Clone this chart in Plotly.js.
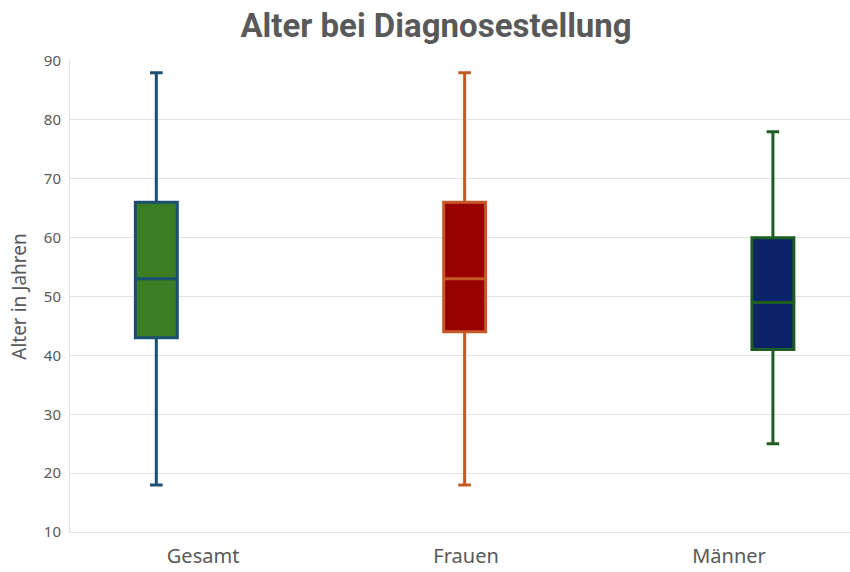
<!DOCTYPE html>
<html>
<head>
<meta charset="utf-8">
<script src="https://cdn.plot.ly/plotly-3.0.1.min.js"></script>
<style>
  html, body { margin: 0; padding: 0; background: #ffffff; }
  #chart { width: 850px; height: 572px; }
</style>
</head>
<body>
<div id="chart"></div>
<script>
// Altersverteilung bei Diagnosestellung (Fünf-Punkte-Zusammenfassung)
const categories = ["Gesamt", "Frauen", "Männer"];
const minimum = [18, 18, 25];
const q1 = [43, 44, 41];
const median = [53, 53, 49];
const q3 = [66, 66, 60];
const maximum = [88, 88, 78];

const fillColors = ["#3a7d22", "#990000", "#0b2468"];
const lineColors = ["#1b4f72", "#c55a28", "#1e5c23"];

const traces = categories.map((cat, i) => ({
  type: "box",
  name: cat,
  x: [i],
  lowerfence: [minimum[i]],
  q1: [q1[i]],
  median: [median[i]],
  q3: [q3[i]],
  upperfence: [maximum[i]],
  width: 0.136,
  whiskerwidth: 0.3,
  fillcolor: fillColors[i],
  line: { color: lineColors[i], width: 3 },
  boxpoints: false,
  hoverinfo: "skip",
  showlegend: false
}));

// Category labels sit on their own evenly spaced bottom axis
traces.push({
  type: "scatter",
  mode: "markers",
  x: [0, 1, 2],
  y: [null, null, null],
  xaxis: "x2",
  hoverinfo: "skip",
  showlegend: false
});

const labelFont = "Noto Sans, Open Sans, sans-serif";

const layout = {
  width: 850,
  height: 572,
  paper_bgcolor: "#ffffff",
  plot_bgcolor: "#ffffff",
  margin: { l: 70, r: 0, t: 61, b: 40 },
  boxmode: "overlay",
  title: {
    text: "<b>Alter bei Diagnosestellung</b>",
    x: 0.513,
    xanchor: "center",
    y: 0.955,
    yanchor: "middle",
    font: { family: "Roboto, Noto Sans, sans-serif", size: 33, color: "#595959" }
  },
  xaxis: {
    range: [-0.28, 2.25],
    showgrid: false,
    zeroline: false,
    showline: true,
    linecolor: "#e3e3e3",
    linewidth: 1,
    showticklabels: false,
    ticks: ""
  },
  xaxis2: {
    overlaying: "x",
    side: "bottom",
    range: [-0.506, 2.46],
    tickvals: [0, 1, 2],
    ticktext: categories,
    showgrid: false,
    zeroline: false,
    showline: false,
    ticks: "",
    ticklabelstandoff: 10,
    tickfont: { family: labelFont, size: 20, color: "#595959" }
  },
  yaxis: {
    range: [10, 90],
    tickvals: [10, 20, 30, 40, 50, 60, 70, 80, 90],
    showgrid: true,
    gridcolor: "#e3e3e3",
    gridwidth: 1,
    zeroline: false,
    showline: true,
    linecolor: "#e3e3e3",
    linewidth: 1,
    ticks: "",
    ticklabelstandoff: 5,
    tickfont: { family: labelFont, size: 15, color: "#595959" },
    title: {
      text: "Alter in Jahren",
      standoff: 12,
      font: { family: labelFont, size: 19, color: "#595959" }
    }
  }
};

Plotly.newPlot("chart", traces, layout, { displayModeBar: false, staticPlot: true });
</script>
</body>
</html>
